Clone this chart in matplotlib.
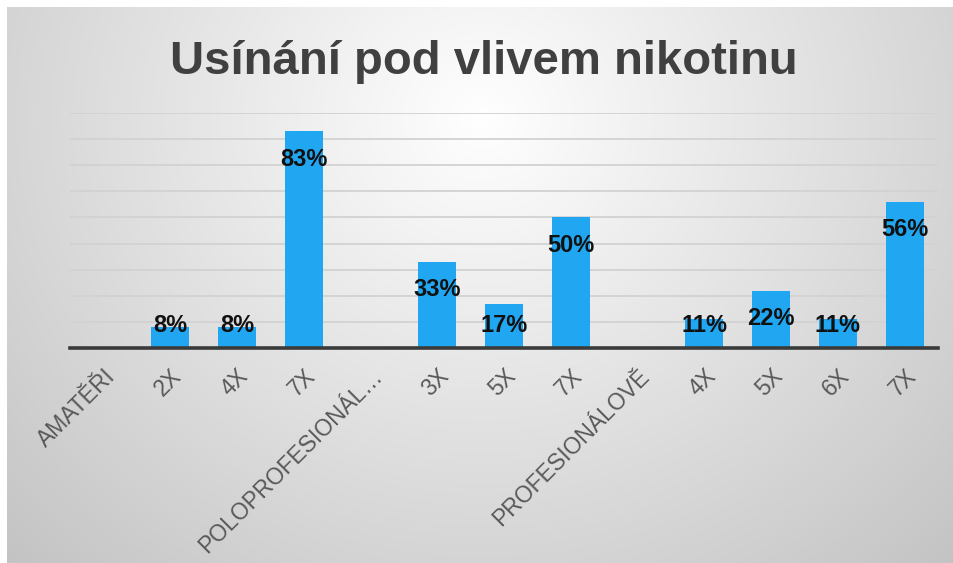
import numpy as np
import matplotlib
matplotlib.use("Agg")
import matplotlib.pyplot as plt

plt.rcParams['font.family'] = ['Liberation Sans', 'DejaVu Sans']

categories = ['AMATĚŘI', '2X', '4X', '7X', 'POLOPROFESIONÁL…', '3X', '5X', '7X',
              'PROFESIONÁLOVĚ', '4X', '5X', '6X', '7X']
values = [0, 8, 8, 83, 0, 33, 17, 50, 0, 11, 22, 11, 56]
# group header rows carry no bar and no label
show_label = [False, True, True, True, False, True, True, True, False, True, True, True, True]

W, H = 954, 563
fig = plt.figure(figsize=(W / 100, H / 100), dpi=100, facecolor='white')

# soft radial background panel
bg = fig.add_axes([7 / W, 0, (W - 7) / W, (H - 7) / H])
bg.set_axis_off()
yy, xx = np.mgrid[0:556, 0:947]
r = np.sqrt(((xx - 475) / 500.0) ** 2 + ((yy - 110) / 460.0) ** 2)
shade = np.clip(255 - 44 * r, 190, 255) / 255.0
bg.imshow(np.dstack([shade, shade, shade]), aspect='auto', interpolation='bilinear')

ax = fig.add_axes([70 / W, 1 - 348 / H, 868 / W, (348 - 113) / H])
ax.patch.set_alpha(0)

x = np.arange(len(categories))
ax.bar(x, values, width=0.57, color='#21A6F2', zorder=3)

ax.set_xlim(-0.5, len(categories) - 0.5)
ax.set_ylim(0, 90)
ax.set_yticks(np.arange(10, 91, 10))
ax.yaxis.grid(True, color='#d2d2d2', linewidth=1.3, zorder=0)
ax.tick_params(axis='y', left=False, labelleft=False)
ax.tick_params(axis='x', length=0, pad=12)

for side in ['top', 'right', 'left']:
    ax.spines[side].set_visible(False)
ax.spines['bottom'].set_color('#3a3a3a')
ax.spines['bottom'].set_linewidth(2.6)
ax.spines['bottom'].set_zorder(4)

ax.set_xticks(x)
ax.set_xticklabels(categories, rotation=45, ha='right', va='top',
                   rotation_mode='anchor', fontsize=16.5, color='#595959')

for xi, v, show in zip(x, values, show_label):
    if not show:
        continue
    ly = max(v - 10.7, 8.6)
    ax.text(xi, ly, f'{v}%', ha='center', va='center', fontsize=17,
            fontweight='bold', color='#111111', zorder=5)

fig.text(0.507, 1 - 74 / H, 'Usínání pod vlivem nikotinu', ha='center', va='baseline',
         fontsize=34, fontweight='bold', color='#404040')

fig.savefig('out.png', dpi=100)
